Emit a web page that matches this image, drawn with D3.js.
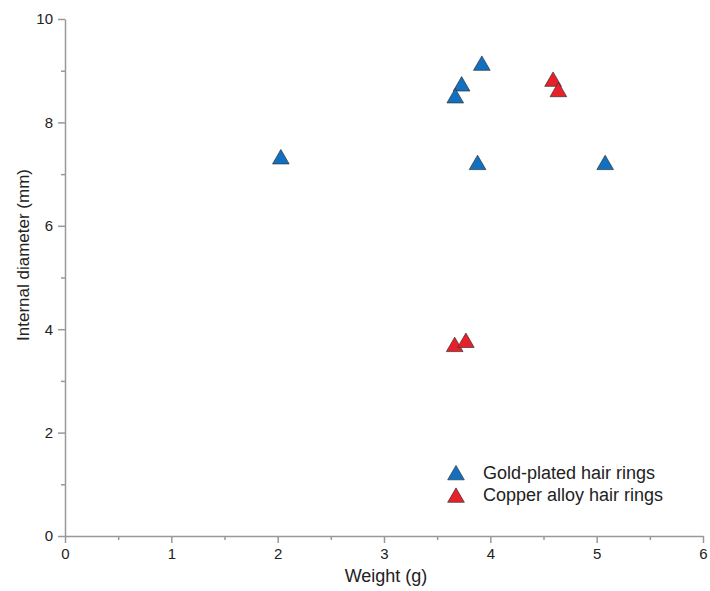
<!DOCTYPE html>
<html lang="en">
<head>
<meta charset="utf-8">
<title>hair rings</title>
<script src="https://cdn.jsdelivr.net/npm/d3@7"></script>
<style>
  body { margin: 0; background: #fff; }
  text { font-family: "Liberation Sans", Arial, sans-serif; fill: #222; }
</style>
</head>
<body>
<script>
// data
var goldWeight = [2.03, 3.92, 3.73, 3.67, 3.88, 5.08];
var goldDiam   = [7.29, 9.10, 8.70, 8.47, 7.18, 7.18];
var copperWeight = [4.59, 4.64, 3.665, 3.77];
var copperDiam   = [8.79, 8.59, 3.66, 3.74];
var seriesNames = ["Gold-plated hair rings", "Copper alloy hair rings"];
var seriesColors = ["#1170c0", "#e8202a"];
var xTicks = [0, 1, 2, 3, 4, 5, 6];
var yTicks = [0, 2, 4, 6, 8, 10];

var w = 710, h = 591;
var x = d3.scaleLinear().domain([0, 6]).range([65, 703]);
var y = d3.scaleLinear().domain([0, 10]).range([536, 19]);

var svg = d3.select("body").append("svg")
  .attr("width", w)
  .attr("height", h);

// minor ticks
var xMinor = d3.axisBottom(x).tickValues([0.5, 1.5, 2.5, 3.5, 4.5, 5.5]).tickSize(4).tickFormat("");
var yMinor = d3.axisLeft(y).tickValues([1, 3, 5, 7, 9]).tickSize(4).tickFormat("");

var xAxis = d3.axisBottom(x).tickValues(xTicks).tickSize(7).tickSizeOuter(0).tickPadding(5).tickFormat(d3.format("d"));
var yAxis = d3.axisLeft(y).tickValues(yTicks).tickSize(7).tickSizeOuter(0).tickPadding(5).tickFormat(d3.format("d"));

function styleAxis(g) {
  g.selectAll("path, line").attr("stroke", "#999").attr("stroke-width", 1.5);
  g.selectAll("text").style("font-size", "15px").attr("fill", "#222");
}

svg.append("g").attr("transform", "translate(0,536)").call(xMinor).call(styleAxis).select(".domain").remove();
svg.append("g").attr("transform", "translate(65,0)").call(yMinor).call(styleAxis).select(".domain").remove();
svg.append("g").attr("transform", "translate(0,536)").call(xAxis).call(styleAxis);
svg.append("g").attr("transform", "translate(65,0)").call(yAxis).call(styleAxis);

// axis titles
svg.append("text")
  .attr("x", 386).attr("y", 582)
  .attr("text-anchor", "middle")
  .style("font-size", "18px")
  .text("Weight (g)");

svg.append("text")
  .attr("transform", "translate(29,255) rotate(-90)")
  .attr("text-anchor", "middle")
  .style("font-size", "17px")
  .text("Internal diameter (mm)");

var tri = d3.symbol().type(d3.symbolTriangle).size(120);

function addPoints(xs, ys, color) {
  svg.append("g").selectAll("path")
    .data(xs)
    .enter()
    .append("path")
    .attr("d", tri)
    .attr("transform", function(d, i) {
      return "translate(" + x(d) + "," + y(ys[i]) + ")";
    })
    .attr("fill", color)
    .attr("stroke", "#333")
    .attr("stroke-width", 0.7);
}

addPoints(goldWeight, goldDiam, seriesColors[0]);
addPoints(copperWeight, copperDiam, seriesColors[1]);

// legend
var legend = svg.append("g");
seriesNames.forEach(function(name, i) {
  var ly = 475 + i * 22.5;
  legend.append("path")
    .attr("d", tri)
    .attr("transform", "translate(456," + ly + ")")
    .attr("fill", seriesColors[i])
    .attr("stroke", "#333")
    .attr("stroke-width", 0.7);
  legend.append("text")
    .attr("x", 483).attr("y", ly + 3.5)
    .style("font-size", "18px")
    .text(name);
});
</script>
</body>
</html>
